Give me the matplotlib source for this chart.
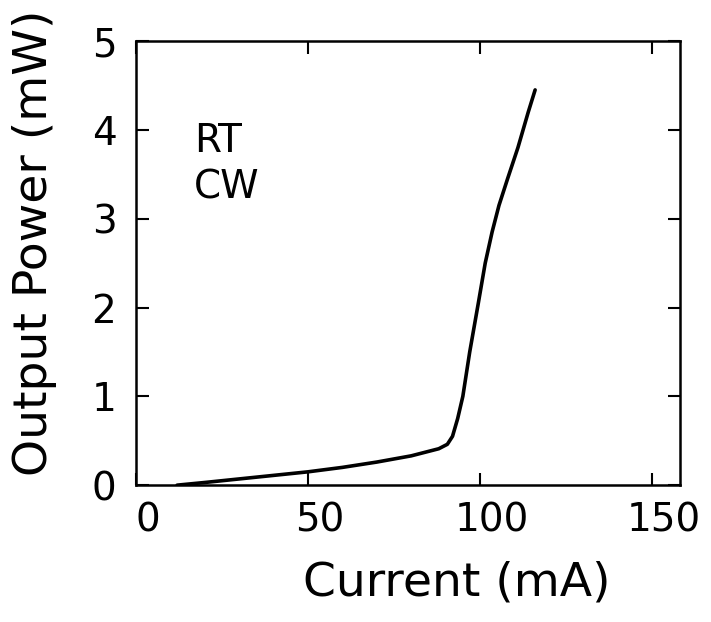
import matplotlib
matplotlib.use("Agg")
import matplotlib.pyplot as plt
import matplotlib.transforms as mtransforms

# --- Data ---
current_mA = [12, 20, 30, 40, 50, 60, 70, 80, 88, 90.5, 92, 93.5, 95, 97,
              99.5, 101.5, 103.5, 105.5, 108, 111, 114, 116]
power_mW = [0.0, 0.03, 0.07, 0.11, 0.15, 0.2, 0.26, 0.33, 0.41, 0.46,
            0.55, 0.75, 1.0, 1.5, 2.05, 2.5, 2.85, 3.15, 3.45, 3.8, 4.2, 4.45]
xticks = [0, 50, 100, 150]
yticks = [0, 1, 2, 3, 4, 5]

plt.rcParams['font.family'] = ['DejaVu Sans']

fig = plt.figure(figsize=(7.11, 6.22), dpi=100)
ax = fig.add_axes([0.191, 0.220, 0.765, 0.714])

ax.plot(current_mA, power_mW, color='black', lw=2.6, solid_capstyle='round')

ax.set_xlim(0, 158)
ax.set_ylim(0, 5)
ax.set_xticks(xticks)
ax.set_yticks(yticks)
ax.tick_params(direction='in', length=9, width=1.5, top=True, right=True,
               labelsize=28)
ax.tick_params(axis='x', pad=12)
ax.tick_params(axis='y', pad=14)
for s in ax.spines.values():
    s.set_linewidth(1.8)

# x tick labels sit a bit right of their ticks in the original
shift = mtransforms.ScaledTranslation(12 / 100, 0, fig.dpi_scale_trans)
for lbl in ax.get_xticklabels():
    lbl.set_transform(lbl.get_transform() + shift)

ax.text(17, 3.88, "RT", fontsize=28, va='center', ha='left')
ax.text(17, 3.35, "CW", fontsize=28, va='center', ha='left')

ax.set_xlabel("Current (mA)", fontsize=34)
ax.xaxis.set_label_coords(0.59, -0.17)
ax.set_ylabel("Output Power (mW)", fontsize=34)
ax.yaxis.set_label_coords(-0.145, 0.545)

plt.savefig("out.png", dpi=100)
